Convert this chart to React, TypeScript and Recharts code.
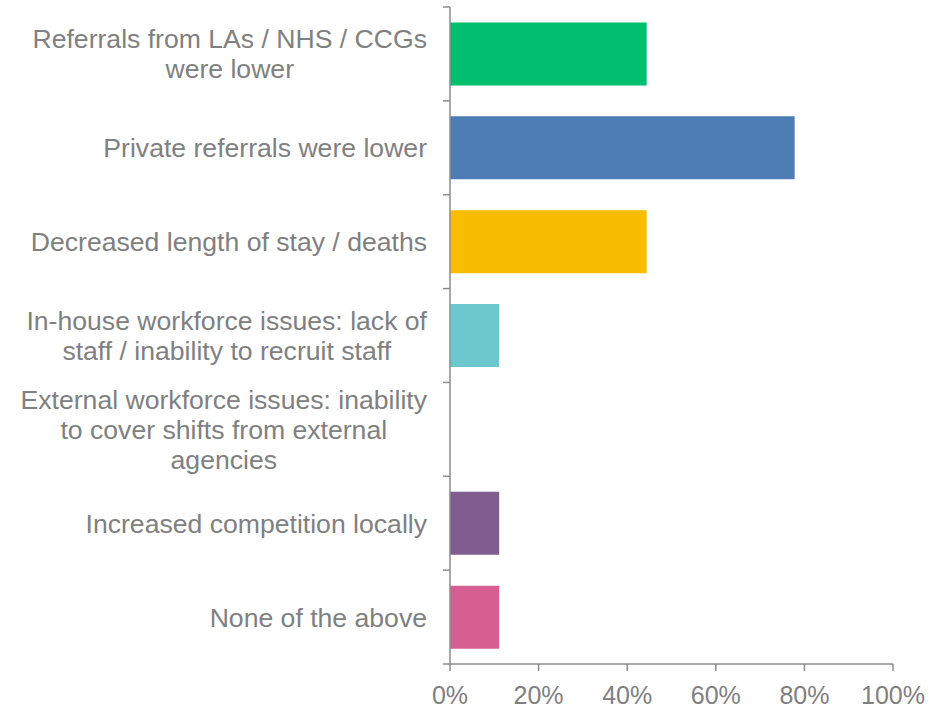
import { BarChart, Bar, XAxis, YAxis, Cell } from 'recharts';

// Reasons for lower occupancy (share of respondents, %)
const categories = [
  'Referrals from LAs / NHS / CCGs\nwere lower',
  'Private referrals were lower',
  'Decreased length of stay / deaths',
  'In-house workforce issues: lack of\nstaff / inability to recruit staff',
  'External workforce issues: inability\nto cover shifts from external\nagencies',
  'Increased competition locally',
  'None of the above',
];
const values = [44.4, 77.8, 44.4, 11.1, 0, 11.1, 11.1];
const colors = ['#00bf6f', '#4e7cb5', '#f8bc00', '#6cc8cc', '#a5a5a5', '#7f5d90', '#d55f91'];
const xTicks = [0, 20, 40, 60, 80, 100];

const data = categories.map((name, i) => ({ name, value: values[i] }));

const GREY = '#808080';
const AXIS = '#8c8c8c';
const FONT = 'Liberation Sans, Arial, sans-serif';
const LABEL_SIZE = 26.6;

let ctx: CanvasRenderingContext2D | null = null;
function textWidth(s: string) {
  if (!ctx) ctx = document.createElement('canvas').getContext('2d');
  if (!ctx) return s.length * LABEL_SIZE * 0.5;
  ctx.font = `${LABEL_SIZE}px "Liberation Sans", Arial, sans-serif`;
  return ctx.measureText(s).width;
}

function CategoryTick(props: any) {
  const { x, y, payload, index, visibleTicksCount, height } = props;
  const band = (height || 656) / (visibleTicksCount || categories.length);
  const lines = String(payload.value).split('\n');
  const maxW = Math.max(...lines.map(textWidth));
  const cx = x - maxW / 2;
  const lh = 30;
  const start = -((lines.length - 1) / 2) * lh;
  return (
    <g>
      <text x={cx} y={y} textAnchor="middle" fill={GREY} fontSize={LABEL_SIZE} fontFamily={FONT}>
        {lines.map((l, i) => (
          <tspan key={i} x={cx} dy={i === 0 ? start + 9.5 : lh}>
            {l}
          </tspan>
        ))}
      </text>
      <line x1={x + 16} x2={x + 23} y1={y - band / 2} y2={y - band / 2} stroke={AXIS} strokeWidth={1.5} />
      {index === visibleTicksCount - 1 && (
        <line x1={x + 16} x2={x + 23} y1={y + band / 2} y2={y + band / 2} stroke={AXIS} strokeWidth={1.5} />
      )}
    </g>
  );
}

export default function App() {
  return (
    <div style={{ position: 'absolute', left: 0, top: 0, width: 941, height: 710, background: '#fff' }}>
      <BarChart
        width={941}
        height={710}
        data={data}
        layout="vertical"
        barCategoryGap="16.5%"
        margin={{ top: 7, right: 48, bottom: 0, left: 0 }}
      >
        <XAxis
          type="number"
          domain={[0, 100]}
          ticks={xTicks}
          tickFormatter={(v) => `${v}%`}
          height={46}
          tickSize={7}
          tickMargin={15}
          axisLine={{ stroke: AXIS, strokeWidth: 1.5 }}
          tickLine={{ stroke: AXIS, strokeWidth: 1.5 }}
          tick={{ fill: GREY, fontSize: 25, fontFamily: FONT }}
        />
        <YAxis
          type="category"
          dataKey="name"
          width={450}
          interval={0}
          tickLine={false}
          tickSize={0}
          tickMargin={23}
          axisLine={{ stroke: AXIS, strokeWidth: 1.5 }}
          tick={<CategoryTick />}
        />
        <Bar dataKey="value" isAnimationActive={false}>
          {data.map((_, i) => (
            <Cell key={i} fill={colors[i]} />
          ))}
        </Bar>
      </BarChart>
    </div>
  );
}
